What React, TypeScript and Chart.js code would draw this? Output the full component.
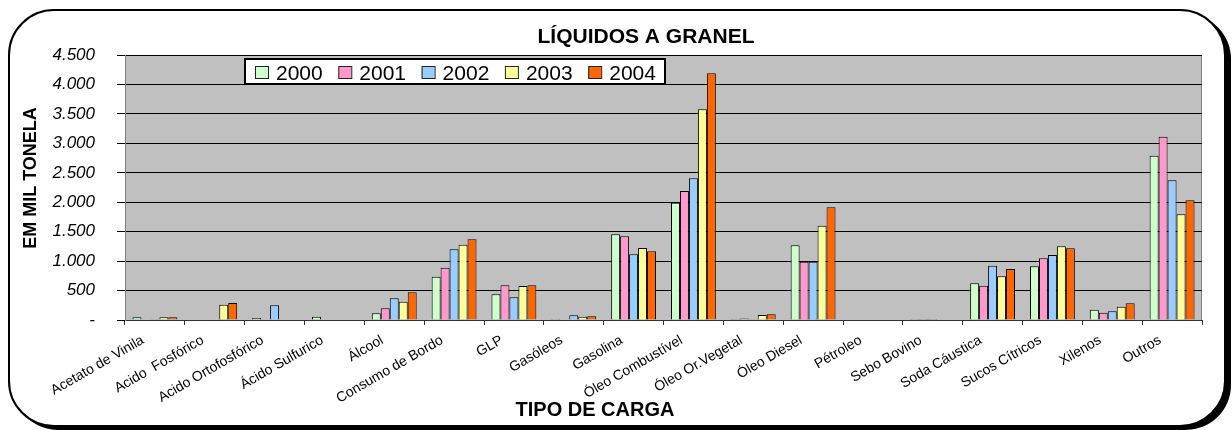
import React, { useEffect, useRef } from 'react';
import { Chart, registerables } from 'chart.js';

Chart.register(...registerables);

const FONT = 'Arial, "Liberation Sans", Helvetica, sans-serif';

const chartTitle = 'LÍQUIDOS A GRANEL';
const xTitle = 'TIPO DE CARGA';
const yTitle = 'EM MIL TONELA';

const categories = [
  'Acetato de Vinila',
  'Acido  Fosfórico',
  'Acido Ortofosfórico',
  'Ácido Sulfurico',
  'Álcool',
  'Consumo de Bordo',
  'GLP',
  'Gasóleos',
  'Gasolina',
  'Óleo Combustível',
  'Óleo Or.Vegetal',
  'Óleo Diesel',
  'Pétroleo',
  'Sebo Bovino',
  'Soda Cáustica',
  'Sucos Cítricos',
  'Xilenos',
  'Outros',
];

const seriesNames = ['2000', '2001', '2002', '2003', '2004'];
const seriesColors = ['#CCFFCC', '#FF99CC', '#99CCFF', '#FFFF99', '#FF6600'];

const values2000 = [45, 0, 35, 55, 113, 735, 436, 15, 1455, 1992, 15, 1268, 0, 15, 622, 911, 175, 2790];
const values2001 = [0, 0, 0, 0, 198, 888, 589, 0, 1421, 2190, 25, 990, 0, 15, 583, 1047, 124, 3113];
const values2002 = [12, 0, 249, 8, 368, 1200, 385, 80, 1115, 2406, 12, 990, 0, 15, 922, 1104, 147, 2372];
const values2003 = [45, 260, 0, 8, 311, 1279, 577, 56, 1222, 3577, 85, 1601, 0, 8, 741, 1251, 226, 1795];
const values2004 = [45, 289, 0, 8, 470, 1370, 589, 63, 1166, 4189, 97, 1913, 0, 8, 866, 1217, 283, 2032];

const seriesValues = [values2000, values2001, values2002, values2003, values2004];

const yMin = 0;
const yMax = 4500;
const yStep = 500;

function formatTick(v: number): string {
  if (v === 0) return '-';
  return String(v).replace(/\B(?=(\d{3})+(?!\d))/g, '.');
}

const decorPlugin = {
  id: 'decor',
  beforeDraw(chart: any) {
    const { ctx, chartArea: a } = chart;
    ctx.save();
    ctx.fillStyle = '#ffffff';
    ctx.fillRect(0, 0, chart.width, chart.height);
    // shadow
    ctx.fillStyle = '#000000';
    ctx.beginPath();
    ctx.roundRect(13, 14, 1218, 416, 45);
    ctx.fill();
    // frame
    ctx.fillStyle = '#ffffff';
    ctx.beginPath();
    ctx.roundRect(9, 10, 1216, 416, 45);
    ctx.fill();
    ctx.lineWidth = 2;
    ctx.strokeStyle = '#000000';
    ctx.stroke();
    // plot area
    ctx.fillStyle = '#C0C0C0';
    ctx.fillRect(a.left, a.top, a.right - a.left, a.bottom - a.top);
    ctx.strokeStyle = '#808080';
    ctx.lineWidth = 1;
    ctx.strokeRect(a.left + 0.5, a.top + 0.5, a.right - a.left - 1, a.bottom - a.top);
    ctx.restore();
  },
  afterDraw(chart: any) {
    const { ctx } = chart;
    ctx.save();
    ctx.fillStyle = '#000000';
    // main title
    ctx.font = `bold 21px ${FONT}`;
    ctx.textAlign = 'center';
    ctx.textBaseline = 'alphabetic';
    ctx.fillText(chartTitle, 646, 43);
    // x title
    ctx.font = `bold 20px ${FONT}`;
    ctx.fillText(xTitle, 595, 416);
    // y title
    ctx.save();
    ctx.translate(31, 178);
    ctx.rotate(-Math.PI / 2);
    ctx.font = `bold 18px ${FONT}`;
    ctx.textBaseline = 'middle';
    ctx.fillText(yTitle, 0, 0);
    ctx.restore();
    // legend
    const lx = 245, ly = 59, lw = 420, lh = 25;
    ctx.fillStyle = '#ffffff';
    ctx.fillRect(lx, ly, lw, lh);
    ctx.lineWidth = 2;
    ctx.strokeStyle = '#000000';
    ctx.strokeRect(lx, ly, lw, lh);
    ctx.font = `21px ${FONT}`;
    ctx.textAlign = 'left';
    ctx.textBaseline = 'alphabetic';
    seriesNames.forEach((name, i) => {
      const sx = 255 + i * 83.3;
      ctx.fillStyle = seriesColors[i];
      ctx.fillRect(sx, 66.5, 13, 12);
      ctx.lineWidth = 1;
      ctx.strokeStyle = '#222222';
      ctx.strokeRect(sx + 0.5, 66.5, 13, 12);
      ctx.fillStyle = '#000000';
      ctx.fillText(name, sx + 21, 79.5);
    });
    ctx.restore();
  },
};

export default function App() {
  const ref = useRef<HTMLCanvasElement>(null);

  useEffect(() => {
    if (!ref.current) return;
    const chart = new Chart(ref.current, {
      type: 'bar',
      data: {
        labels: categories,
        datasets: seriesNames.map((name, i) => ({
          label: name,
          data: seriesValues[i],
          backgroundColor: seriesColors[i],
          borderColor: '#000000',
          borderWidth: 1,
          categoryPercentage: 0.75,
          barPercentage: 1.0,
        })),
      },
      options: {
        animation: false,
        responsive: true,
        maintainAspectRatio: false,
        layout: { padding: { left: 0, right: 30, top: 55, bottom: 0 } },
        plugins: {
          legend: { display: false },
          title: { display: false },
          tooltip: { enabled: false },
        },
        scales: {
          x: {
            grid: {
              offset: true,
              drawOnChartArea: false,
              drawTicks: true,
              tickLength: 5,
              color: '#333333',
            },
            border: { color: '#333333', width: 1 },
            ticks: {
              autoSkip: false,
              minRotation: 30,
              maxRotation: 30,
              padding: 7,
              labelOffset: -12,
              color: '#000000',
              font: { family: FONT, size: 14 },
            },
            afterFit: (s: any) => {
              s.height = 110;
            },
          },
          y: {
            min: yMin,
            max: yMax,
            ticks: {
              stepSize: yStep,
              padding: 22,
              color: '#000000',
              font: { family: FONT, size: 17, style: 'italic' },
              callback: (v: any) => formatTick(Number(v)),
            },
            grid: { color: '#000000', tickLength: 8, lineWidth: 1 },
            border: { color: '#808080', width: 1 },
            afterFit: (s: any) => {
              s.width = 125;
            },
          },
        },
      },
      plugins: [decorPlugin],
    });
    return () => chart.destroy();
  }, []);

  return (
    <div style={{ position: 'absolute', left: 0, top: 0, width: 1232, height: 430 }}>
      <canvas ref={ref} />
    </div>
  );
}
